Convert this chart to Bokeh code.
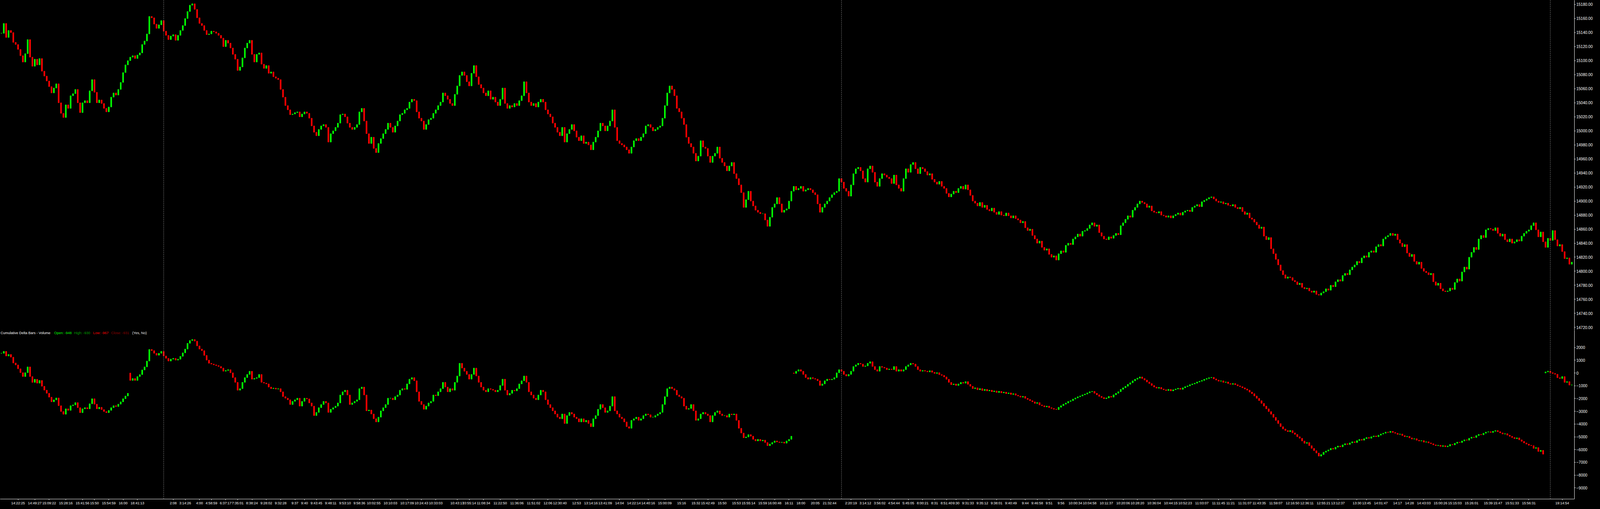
from bokeh.plotting import figure
from bokeh.layouts import column
from bokeh.models import (ColumnDataSource, Range1d, Span, Label, FixedTicker,
                          SingleIntervalTicker, NumeralTickFormatter,
                          GlobalInlineStyleSheet)
from bokeh.embed import file_html
from bokeh.resources import INLINE

# Price bars (close per bar), 3-30 afternoon to 4-3 evening
price_close = [
    # 3-30
    15139, 15153, 15133, 15143, 15140, 15126, 15123, 15116, 15107, 15098,
    15110, 15130, 15105, 15092, 15102, 15094, 15103, 15085, 15078, 15071,
    15063, 15054, 15061, 15067, 15040, 15025, 15019, 15037, 15032, 15050,
    15053, 15059, 15040, 15026, 15040, 15043, 15040, 15057, 15073, 15055,
    15040, 15044, 15039, 15032, 15027, 15034, 15048, 15054, 15051, 15059,
    15069, 15083, 15094, 15100, 15105, 15107, 15103, 15108, 15111, 15123,
    15128, 15138, 15163, 15161, 15152, 15146, 15151, 15157, 15142, 15136,
    15130, 15135, 15137,
    # 3-31
    15129, 15136, 15143, 15150, 15160, 15170, 15179, 15181, 15173, 15161,
    15153, 15150, 15143, 15137, 15138, 15142, 15141, 15139, 15136, 15132,
    15120, 15129, 15125, 15118, 15109, 15102, 15086, 15091, 15104, 15118,
    15125, 15129, 15109, 15098, 15109, 15111, 15095, 15089, 15093, 15082,
    15084, 15077, 15075, 15073, 15059, 15048, 15036, 15030, 15023, 15024,
    15026, 15027, 15020, 15024, 15027, 15025, 15018, 15007, 14998, 14993,
    15002, 15007, 15009, 15005, 14984, 14996, 15000, 15005, 15011, 15023,
    15024, 15020, 15011, 15005, 15002, 15005, 15009, 15027, 15032, 15014,
    14996, 14982, 14991, 14975, 14969, 14982, 14989, 14996, 15002, 15011,
    15005, 14998, 15007, 15014, 15023, 15025, 15030, 15032, 15041, 15045,
    15043, 15027, 15018, 15014, 15002, 15009, 15016, 15018, 15025, 15030,
    15036, 15041, 15054, 15050, 15045, 15039, 15036, 15052, 15064, 15079,
    15084, 15079, 15070, 15064, 15082, 15093, 15077, 15066, 15061, 15054,
    15050, 15057, 15045, 15048, 15041, 15036, 15045, 15061, 15039, 15032,
    15036, 15034, 15039, 15036, 15043, 15050, 15070, 15054, 15041, 15036,
    15039, 15034, 15041, 15045, 15041, 15030, 15024, 15020, 15011, 15005,
    14998, 14993, 15005, 14984, 14996, 15002, 15009, 15000, 14991, 14986,
    14993, 14982, 14984, 14980, 14973, 14984, 14991, 15000, 15011, 15007,
    15000, 15007, 15014, 15030, 15005, 14986, 14982, 14980, 14977, 14973,
    14968, 14977, 14986, 14989, 14986, 14991, 14996, 15007, 15009, 15005,
    15000, 15002, 15005, 15007, 15018, 15036, 15054, 15064, 15059, 15050,
    15032, 15027, 15018, 15009, 14991, 14982, 14977, 14968, 14957, 14964,
    14986, 14977, 14975, 14964, 14955, 14964, 14968, 14977, 14961, 14955,
    14950, 14943, 14950, 14955, 14939, 14932, 14923, 14912, 14891, 14902,
    14914, 14900, 14893, 14887, 14884, 14882, 14882, 14873, 14864, 14877,
    14891, 14896, 14905, 14896, 14884, 14887, 14889, 14900, 14914, 14921,
    14916, 14918, 14921, 14914, 14916, 14918, 14916, 14912, 14909, 14896,
    14884, 14891, 14896, 14900, 14905, 14909, 14912, 14914, 14932, 14927,
    14918, 14914, 14907, 14923, 14939, 14946, 14948, 14943, 14932, 14927,
    14946, 14950, 14941, 14927, 14921, 14932, 14939, 14937, 14934, 14932,
    14925, 14937, 14923, 14918, 14914, 14932, 14946, 14941, 14952, 14955,
    14946, 14939, 14948, 14946,
    # 4-1
    14942, 14937, 14939, 14931, 14927, 14924, 14928, 14921, 14918, 14911,
    14906, 14910, 14914, 14912, 14918, 14921, 14917, 14923, 14916, 14908,
    14900, 14897, 14893, 14898, 14891, 14894, 14888, 14886, 14890, 14884,
    14881, 14885, 14880, 14879, 14883, 14879, 14876, 14879, 14875, 14873,
    14869, 14871, 14862, 14858, 14860, 14851, 14846, 14840, 14843, 14834,
    14830, 14832, 14824, 14820, 14822, 14816, 14825, 14829, 14827, 14837,
    14840, 14838, 14846, 14849, 14853, 14850, 14857, 14858, 14861, 14866,
    14869, 14864, 14866, 14855, 14850, 14846, 14845, 14849, 14847, 14851,
    14854, 14852, 14865, 14869, 14874, 14879, 14877, 14887, 14891, 14896,
    14900, 14898, 14896, 14891, 14893, 14886, 14884, 14883, 14885, 14880,
    14879, 14877, 14879, 14876, 14879, 14881, 14883, 14880, 14884, 14886,
    14887, 14885, 14891, 14893, 14895, 14892, 14899, 14901, 14903, 14905,
    14906, 14903, 14900, 14898, 14899, 14896, 14897, 14894, 14893, 14895,
    14891, 14889, 14891, 14885, 14881, 14883, 14876, 14874, 14870, 14866,
    14861, 14863, 14850, 14845, 14848, 14832, 14825, 14817, 14809, 14801,
    14795, 14790, 14792, 14791, 14787, 14785, 14781, 14783, 14777, 14775,
    14776, 14772, 14770, 14772, 14767, 14766, 14769, 14771, 14775, 14773,
    14780, 14778, 14785, 14788, 14786, 14794, 14797, 14795, 14802, 14806,
    14809, 14814, 14812, 14819, 14822, 14820, 14827, 14829, 14827, 14835,
    14838, 14836, 14846, 14849, 14851, 14854, 14851, 14853, 14845, 14840,
    14835, 14838, 14826, 14821, 14824, 14814, 14810, 14813, 14804, 14800,
    14798, 14795, 14797, 14785, 14780, 14783, 14775, 14772, 14771, 14772,
    14776, 14774, 14784, 14789, 14786, 14799, 14806, 14803, 14820, 14827,
    14834, 14831, 14846, 14851, 14848, 14859, 14861, 14860, 14858, 14862,
    14854, 14850, 14853, 14845, 14842, 14846, 14840, 14842, 14845, 14843,
    14850, 14854, 14857, 14859, 14865, 14869, 14859, 14849, 14856, 14842,
    # 4-3
    14834, 14847, 14844, 14858, 14845, 14836, 14838, 14828, 14818, 14819,
    14810, 14813,
]

# Cumulative delta (volume) close per bar; resets at each session start
delta_close = [
    1545, 1697, 1332, 1454, 1241, 784, 632, 328, 24, -280,
    24, 480, -280, -736, -493, -797, -584, -1040, -1344, -1588,
    -1892, -2257, -2105, -1953, -2561, -3017, -3230, -2804, -2926, -2561,
    -2500, -2318, -2713, -3108, -2804, -2713, -2804, -2409, -2014, -2440,
    -2804, -2683, -2865, -3017, -3108, -2926, -2713, -2561, -2622, -2440,
    -2257, -2014, -1801, -1588,
    -584, -432, -584, -280, -128, 237, 480, 936, 1848, 1757,
    1545, 1393, 1545, 1697, 1332, 1150, 936, 1089, 1150,
    1008, 1083, 1306, 1579, 1877, 2324, 2547, 2622, 2498, 2125,
    1877, 1753, 1380, 1008, 760, 700, 636, 580, 511, 387,
    139, 200, 263, 15, -358, -731, -1351, -1227, -731, -358,
    -110, 139, -482, -420, -358, -110, -731, -790, -855, -1103,
    -1227, -1180, -1260, -1227, -1475, -1848, -1972, -2096, -2468, -2220,
    -2096, -1972, -2592, -2220, -1972, -2030, -2344, -2592, -3337, -3089,
    -2716, -2468, -2220, -2344, -3089, -2841, -2716, -2592, -2344, -1723,
    -1475, -1351, -1723, -2468, -2344, -2220, -2096, -1227, -1103, -1723,
    -2965, -2900, -3213, -3585, -3834, -3461, -2965, -2716, -2468, -1972,
    -1972, -2096, -1848, -1723, -1351, -1227, -1280, -855, -482, -358,
    -606, -1475, -2220, -2468, -2841, -2592, -2344, -2220, -1723, -1780,
    -1475, -1227, -731, -1103, -1475, -1227, -1351, -731, -234, 760,
    387, 139, -110, -482, -110, 387, -234, -731, -1103, -1351,
    -1475, -1227, -1280, -1351, -1475, -1351, -979, -482, -1351, -1723,
    -1599, -1351, -1400, -1227, -855, -606, -234, -731, -1475, -1723,
    -1972, -2096, -1723, -1351, -1475, -2096, -2468, -2716, -2965, -3213,
    -3461, -3585, -3213, -3958, -3337, -3089, -3213, -3461, -3585, -3834,
    -3585, -3834, -3709, -3958, -4206, -3585, -3337, -2841, -2468, -2716,
    -3089, -2965, -2592, -1848, -2965, -3213, -3461, -3585, -3834, -4206,
    -4330, -3709, -3585, -3461, -3709, -3585, -3337, -3213, -3270, -3461,
    -3461, -3337, -3213, -3089, -2468, -1848, -1227, -1103, -1227, -1351,
    -1723, -1848, -1972, -2592, -2841, -2780, -2468, -2965, -3709, -3585,
    -3213, -3089, -3213, -3337, -3834, -3337, -3089, -2965, -3213, -3337,
    -3337, -3461, -3213, -3270, -3213, -3709, -4330, -4702, -5075, -5010,
    -4827, -4951, -5199, -5323, -5199, -5323, -5260, -5447, -5696, -5571,
    -5447, -5323, -5398, -5447, -5420, -5497, -5323, -5199, -4951,
    -35, 139, 263, 139, -110, -358, -482, -358, -433, -482, -606,
    -979, -855, -606, -482, -532, -482, -358, 15, 263, 139,
    -110, -234, -110, 139, 511, 636, 760, 700, 511, 560,
    760, 884, 511, 263, 139, 511, 450, 387, 263, 313,
    263, 511, 139, 263, 139, 263, 511, 636, 760, 700,
    511, 263, 139, 200,
    146, 85, 177, 55, -37, 24, -128, -189, -310, -493,
    -736, -918, -858, -979, -858, -736, -797, -675, -888, -1040,
    -1223, -1162, -1314, -1223, -1375, -1283, -1405, -1344, -1466, -1405,
    -1527, -1435, -1557, -1496, -1618, -1557, -1679, -1618, -1740, -1801,
    -1892, -1831, -1983, -2074, -2166, -2257, -2379, -2318, -2500, -2561,
    -2652, -2592, -2713, -2774, -2835, -2865, -2683, -2561, -2440, -2349,
    -2227, -2166, -2044, -1953, -1861, -1801, -1709, -1649, -1557, -1466,
    -1435, -1588, -1709, -1831, -1922, -2014, -1953, -1831, -1892, -1709,
    -1588, -1466, -1283, -1162, -1040, -888, -766, -614, -493, -402,
    -310, -432, -554, -706, -827, -979, -1101, -1192, -1131, -1253,
    -1314, -1375, -1283, -1405, -1314, -1253, -1192, -1283, -1162, -1071,
    -1010, -918, -858, -797, -706, -645, -584, -493, -432, -371,
    -341, -462, -554, -645, -614, -736, -706, -827, -888, -827,
    -918, -1010, -1071, -1162, -1253, -1344, -1496, -1618, -1801, -1983,
    -2166, -2379, -2592, -2804, -3017, -3230, -3473, -3716, -3960, -4203,
    -4385, -4507, -4598, -4507, -4690, -4811, -4994, -5115, -5328, -5510,
    -5449, -5693, -5906, -6088, -6271, -6514, -6392, -6210, -6118, -6027,
    -5906, -5966, -5814, -5723, -5784, -5632, -5541, -5601, -5480, -5389,
    -5449, -5297, -5206, -5267, -5146, -5054, -5115, -4994, -4933, -4994,
    -4872, -4781, -4720, -4629, -4659, -4568, -4659, -4720, -4811, -4781,
    -4902, -4994, -4963, -5085, -5176, -5146, -5267, -5328, -5297, -5419,
    -5389, -5480, -5541, -5632, -5693, -5662, -5754, -5693, -5784, -5723,
    -5601, -5632, -5510, -5419, -5449, -5328, -5237, -5267, -5115, -5024,
    -5054, -4902, -4811, -4842, -4720, -4629, -4598, -4659, -4568, -4507,
    -4598, -4690, -4781, -4750, -4872, -4963, -5054, -5146, -5085, -5237,
    -5358, -5480, -5571, -5662, -5693, -5906, -5845, -6149, -6058, -6362,
    85, 146, 24, -37, -98, -371, -432, -280, -736, -675,
    -948, -931,
]
session_starts = [54, 332, 647]
last_delta_high = -930
last_delta_low = -967

# time axis
tick_bars = [7, 14, 20, 27, 34, 39, 45, 51, 57, 72, 77, 83, 88, 94, 99, 105, 111, 117,
             123, 127, 132, 138, 144, 150, 156, 163, 170, 176, 182, 191, 196, 202, 209,
             216, 223, 229, 234, 241, 247, 253, 259, 265, 271, 278, 285, 291, 296, 302,
             308, 313, 319, 324, 330, 335, 341, 347, 356, 362, 368, 374, 380, 386, 391,
             396, 400, 405, 411, 417, 423, 429, 434, 439, 444, 450, 456, 463, 470, 476,
             483, 490, 496, 503, 510, 515, 521, 527, 534, 541, 547, 554, 560, 568, 572,
             578, 585, 590, 596, 603, 609, 616, 623, 627, 633, 640, 654]
tick_labels = ["14:22:25", "14:49:27", "15:09:22", "15:28:16", "15:41:56", "15:50", "15:54:59",
               "16:00", "18:41:13", "2:08", "3:14:26", "4:00", "4:58:59", "6:37:17", "7:35:01",
               "8:38:24", "9:28:02", "9:32:28", "9:37", "9:40", "9:43:45", "9:48:11", "9:53:10",
               "9:58:36", "10:02:55", "10:10:03", "10:17:09", "10:24:43", "10:33:03", "10:43:17",
               "10:55:14", "11:08:34", "11:22:50", "11:36:06", "11:51:02", "12:06", "12:30:40",
               "12:53", "13:14:16", "13:41:09", "14:04", "14:22:14", "14:40:16", "15:00:09",
               "15:16", "15:32", "15:42:49", "15:50", "15:53", "15:55:14", "15:59", "16:00:48",
               "16:11", "18:00", "20:05", "21:32:44", "2:20:19", "3:14:12", "3:56:02", "4:54:44",
               "5:45:05", "8:00:21", "8:31", "8:51:40", "9:30", "9:31:33", "9:35:12", "9:38:01",
               "9:40:49", "9:44", "9:46:58", "9:51", "9:56", "10:00:34", "10:04:58", "10:11:37",
               "10:20:06", "10:28:20", "10:36:04", "10:44:15", "10:52:23", "11:03:07",
               "11:11:45", "11:21", "11:31:07", "11:43:35", "11:59:07", "12:16:50", "12:36:11",
               "12:55:21", "13:12:37", "13:30", "13:45", "14:01:47", "14:17", "14:28",
               "14:43:03", "15:00:26", "15:15:03", "15:26:01", "15:39", "15:47", "15:51:33",
               "15:56:31", "19:14:54"]
day_bars = [1, 68, 352, 649]
day_labels = ["3-30", "3-31", "4-1", "4-3"]
delta_ticks = [2000, 1000, 0, -1000, -2000, -3000, -4000, -5000, -6000, -7000, -8000, -9000]

UP = "#00ff00"
DOWN = "#ff0000"
FONT = "Liberation Sans"
W = 4080          # the page that gets photographed is about 4096 px wide
RIGHT = 48        # room for the price scale

N = len(price_close)
bars = list(range(N))

price_open = [price_close[0]] + price_close[:-1]
delta_open = [delta_close[0]] + delta_close[:-1]
for s in session_starts:
    delta_open[s] = 0


def candles(opens, closes):
    return ColumnDataSource(dict(
        x=bars,
        top=[max(o, c) for o, c in zip(opens, closes)],
        bottom=[min(o, c) for o, c in zip(opens, closes)],
        color=[UP if c >= o else DOWN for o, c in zip(opens, closes)],
    ))


def style(p):
    p.background_fill_color = "black"
    p.border_fill_color = "black"
    p.outline_line_color = None
    p.grid.visible = False
    for ax in p.axis:
        ax.axis_line_color = "white"
        ax.major_tick_line_color = "white"
        ax.minor_tick_line_color = None
        ax.major_tick_in = 0
        ax.major_tick_out = 3
        ax.major_label_text_color = "white"
        ax.major_label_text_font = FONT
        ax.major_label_text_font_size = "10px"
        ax.major_label_standoff = 2


x_range = Range1d(-0.5, N + 0.1)

# price pane
p = figure(width=W, height=845, x_range=x_range, y_range=Range1d(14716.3, 15186.1),
           output_backend="svg", toolbar_location=None, x_axis_location=None,
           y_axis_location="right", min_border=0, min_border_right=RIGHT)
p.vbar(x="x", width=0.5, top="top", bottom="bottom", fill_color="color",
       line_color="color", source=candles(price_open, price_close))
p.yaxis.ticker = SingleIntervalTicker(interval=20, num_minor_ticks=0)
p.yaxis.formatter = NumeralTickFormatter(format="0.00")
style(p)
p.add_layout(Label(x=N + 0.1, y=price_close[-1], text=f"{price_close[-1]:.2f}",
                   x_offset=1, text_align="left", text_baseline="middle",
                   text_color="black", background_fill_color="white",
                   text_font=FONT, text_font_size="10px", padding=1))

# cumulative delta pane
q = figure(width=W, height=451, x_range=x_range, y_range=Range1d(-9875, 3367),
           output_backend="svg", toolbar_location=None, y_axis_location="right",
           min_border=0, min_border_right=RIGHT)
q.vbar(x="x", width=0.5, top="top", bottom="bottom", fill_color="color",
       line_color="color", source=candles(delta_open, delta_close))
q.yaxis.ticker = FixedTicker(ticks=delta_ticks)
q.xaxis.ticker = FixedTicker(ticks=tick_bars)
q.xaxis.major_label_overrides = dict(zip(tick_bars, tick_labels))
style(q)
q.xaxis.major_label_text_font_size = "9px"

header = [("Cumulative Delta Bars - Volume", "white", 1),
          (f"Open: {delta_open[-1]}", "#00ff00", 138),
          (f"High: {last_delta_high}", "#00a000", 189),
          (f"Low: {last_delta_low}", "#ff0000", 238),
          (f"Close: {delta_close[-1]}", "#8b0000", 284),
          ("(Yes, No)", "#e8e8e8", 338)]
for txt, col, sx in header:
    q.add_layout(Label(x=sx, x_units="screen", y=3123, text=txt, text_color=col,
                       text_font=FONT, text_font_size="9px", text_baseline="middle"))

for b, name in zip(day_bars, day_labels):
    q.add_layout(Label(x=b, y=-9, y_units="screen", text=name, text_align="center",
                       text_baseline="middle", text_color="black",
                       background_fill_color="white", text_font=FONT,
                       text_font_size="9px", padding=1))

for b in day_bars[1:]:
    for fig in (p, q):
        fig.add_layout(Span(location=b, dimension="height", line_color="#8a8a8a",
                            line_dash="3 2", line_width=1))

layout = column(p, q, stylesheets=[GlobalInlineStyleSheet(css="body { background-color: #000; }")])
open("out.html", "w").write(file_html(layout, INLINE))
